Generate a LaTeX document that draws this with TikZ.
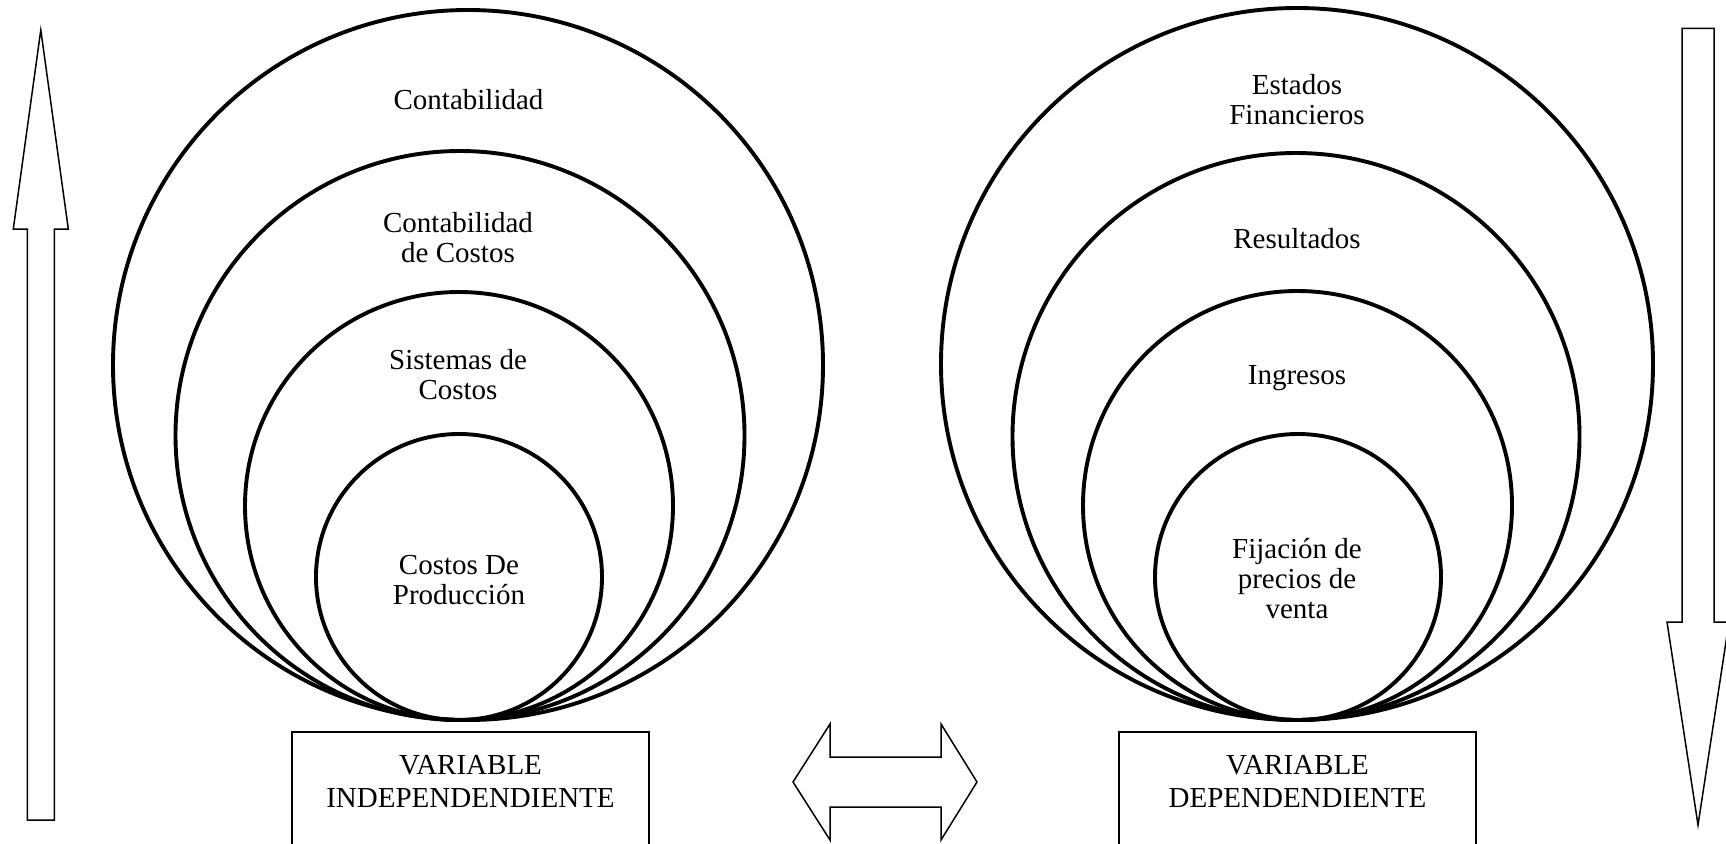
\documentclass[tikz,border=0pt]{standalone}
\usepackage{fontspec}
\setmainfont{Liberation Serif}
\newcommand{\mlines}[1]{\begin{tabular}[t]{@{}c@{}}#1\end{tabular}}
\begin{document}
\begin{tikzpicture}[x=1pt,y=-1pt,
  ring/.style={draw, line width=3.9pt},
  lbl/.style={font=\fontsize{29}{30}\selectfont, inner sep=0pt, anchor=base},
  fat/.style={draw, line width=1.5pt, line join=miter},
  varbox/.style={draw, line width=1.8pt, anchor=north, minimum width=357pt,
    inner xsep=0pt, inner ysep=19.4pt, font=\fontsize{29}{33}\selectfont}]
\useasboundingbox (0,0) rectangle (1726,843);
% left rings
\draw[ring] (468,365) circle[radius=355pt];
\draw[ring] (460,435.5) circle[radius=284.5pt];
\draw[ring] (459,506) circle[radius=214pt];
\draw[ring] (459,577) circle[radius=143pt];
% right rings
\draw[ring] (1297,364) circle[radius=356pt];
\draw[ring] (1296,436.5) circle[radius=283.5pt];
\draw[ring] (1297.5,505.5) circle[radius=214.5pt];
\draw[ring] (1298,577) circle[radius=143pt];
% left labels
\node[lbl] (cont) at (468.5,109) {Contabilidad};
\node[lbl] (ccos) at (458,232.5) {\mlines{Contabilidad\\de Costos}};
\node[lbl] (sist) at (458,369.5) {\mlines{Sistemas de\\Costos}};
\node[lbl] (prod) at (459,574) {\mlines{Costos De\\Producción}};
% right labels
\node[lbl] (esta) at (1297,94) {\mlines{Estados\\Financieros}};
\node[lbl] (resu) at (1297,248) {Resultados};
\node[lbl] (ingr) at (1297,384) {Ingresos};
\node[lbl] (fija) at (1297,558) {\mlines{Fijación de\\precios de\\venta}};
% boxes
\node[varbox] (vind) at (470.5,731) {\mlines{VARIABLE\\INDEPENDENDIENTE\\[60pt]}};
\node[varbox] (vdep) at (1297.5,731) {\mlines{VARIABLE\\DEPENDENDIENTE\\[60pt]}};
% up arrow
\draw[fat] (27.3,820) -- (27.3,229) -- (13.3,229) -- (40.8,30) -- (68.3,229)
  -- (54.3,229) -- (54.3,820) -- cycle;
% down arrow
\draw[fat] (1682,28.5) -- (1714,28.5) -- (1714,622) -- (1729,622) -- (1698,825)
  -- (1667,622) -- (1682,622) -- cycle;
% double arrow
\draw[fat] (793,782) -- (830,724) -- (830,757) -- (941,757) -- (941,724)
  -- (977,782) -- (941,840) -- (941,807) -- (830,807) -- (830,840) -- cycle;
\end{tikzpicture}
\end{document}
